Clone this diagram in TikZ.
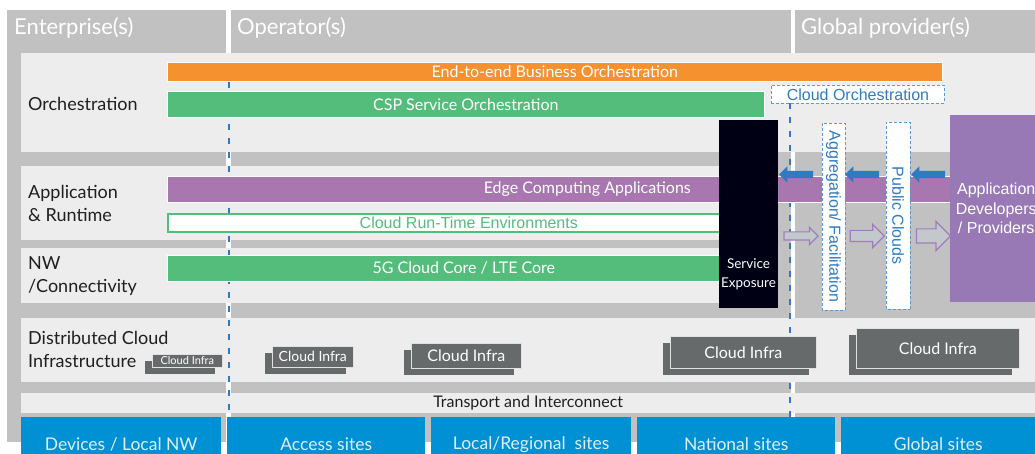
\documentclass[tikz,border=0pt]{standalone}
\usepackage{fontspec}
\setmainfont{Lato}
\newfontfamily\arialfont{Liberation Sans}
\usetikzlibrary{shapes.arrows,positioning}
\definecolor{BGGRAY}{HTML}{C0C1C0}
\definecolor{ROWGRAY}{HTML}{EDEDED}
\definecolor{ORANGE}{HTML}{F5912F}
\definecolor{GREEN}{HTML}{55BD7B}
\definecolor{PURPLE}{HTML}{A877B0}
\definecolor{DEVPURPLE}{HTML}{9879B5}
\definecolor{BLUE}{HTML}{2F7BC2}
\definecolor{DASHBLUE}{HTML}{5B9BD5}
\definecolor{INFRA}{HTML}{676A6B}
\definecolor{SITEBLUE}{HTML}{0090D4}
\definecolor{SITETEXT}{HTML}{DDEFF9}
\definecolor{HOLLOW}{HTML}{C3C8CC}
\definecolor{ARROWPURPLE}{HTML}{A07CC0}

\begin{document}
\begin{tikzpicture}[x=1pt,y=-1pt,font=\fontsize{16}{19}\selectfont]
\tikzstyle{layer name}=[anchor=west,align=left,inner xsep=0pt,text=black!88,font=\fontsize{18}{23}\selectfont]
\tikzstyle{owner}=[anchor=base west,inner xsep=0pt,text=white,font=\fontsize{22}{24}\selectfont]
\tikzstyle{bar}=[anchor=north west,inner sep=0pt,draw=white!75,line width=.6pt,text=white]
\tikzstyle{dash box}=[draw=DASHBLUE,line width=.9pt,dash pattern=on 3pt off 2pt,fill=white,text=BLUE,inner sep=0pt,font=\arialfont\fontsize{16}{19}\selectfont]
\tikzstyle{split}=[draw=BLUE,line width=2pt,dash pattern=on 6pt off 8pt]
\tikzstyle{pull}=[single arrow,shape border rotate=180,fill=BLUE,inner xsep=0pt,inner ysep=3.5pt,text height=0pt,text depth=0pt,minimum height=34,single arrow head extend=4.5]
\tikzstyle{offer}=[single arrow,fill=HOLLOW,draw=ARROWPURPLE,line width=1.2pt,inner xsep=0pt,text height=0pt,text depth=0pt,minimum height=34]
\tikzstyle{infra}=[anchor=north west,fill=INFRA,draw=white!80!INFRA,line width=.6pt,inner sep=0pt,text=white]
\tikzstyle{site}=[anchor=north west,fill=SITEBLUE,inner sep=0pt,minimum height=54,text=SITETEXT,font=\fontsize{17.5}{20}\selectfont]

\newcommand{\cloudinfra}[6]{
\fill[INFRA] (#2-7,#3+7) rectangle +(#4,#5);
\node[infra,minimum width=#4,minimum height=#5,font=\fontsize{#6}{#6}\selectfont] (#1) at (#2,#3) {Cloud Infra};
}

\useasboundingbox (0,0) rectangle (1035,454);

% columns
\fill[BGGRAY] (7,10) rectangle (226,442);
\fill[BGGRAY] (231,10) rectangle (791,442);
\fill[BGGRAY] (795,10) rectangle (1035,442);
\node[owner] (enterprise) at (14,35) {Enterprise(s)};
\node[owner] (operator) at (237,35) {Operator(s)};
\node[owner] (global) at (801,35) {Global provider(s)};

% layers
\fill[ROWGRAY] (21,53) rectangle (1035,152);
\fill[ROWGRAY] (21,166) rectangle (778,240);
\fill[ROWGRAY] (21,248) rectangle (778,303);
\fill[ROWGRAY] (21,318) rectangle (1035,382);
\node[fill=ROWGRAY,anchor=north west,inner sep=0pt,minimum width=1014,minimum height=20,text=black!88] (transport) at (21,393) {Transport and Interconnect};

\node[layer name] (orch) at (28,103.5) {Orchestration};
\node[layer name] (app) at (28,203.5) {Application\\\& Runtime};
\node[layer name] (nw) at (28,276.5) {NW\\/Connectivity};
\node[layer name] (dci) at (28,349.5) {Distributed Cloud\\Infrastructure};

\draw[split] (229,82) -- (229,454);
\draw[split] (790,103) -- (790,454);

\node[bar,fill=ORANGE,minimum width=775,minimum height=19] (e2e) at (167,62) {End-to-end Business Orchestration};
\node[bar,fill=GREEN,minimum width=597,minimum height=26] (csp) at (167,91) {CSP Service Orchestration};
\node[bar,fill=PURPLE,minimum width=840,minimum height=26] (edge) at (167,176) {Edge Computing Applications};
\node[bar,fill=white,draw=GREEN,line width=1.6pt,text=GREEN,font=\arialfont\fontsize{16}{19}\selectfont,minimum width=602,minimum height=18] (runtime) at (167,213) {Cloud Run-Time Environments};
\node[bar,fill=GREEN,minimum width=593,minimum height=26] (core) at (167,255) {5G Cloud Core / LTE Core};

\node[anchor=north west,fill=black!92!blue,minimum width=59,minimum height=188,inner sep=0pt] (exposure) at (719,120) {};
\node[align=center,text=white,font=\fontsize{13.5}{19}\selectfont] (exposetext) at (748.5,274) {Service\\Exposure};

\node[dash box,anchor=north west,minimum width=173,minimum height=18] (cloudorch) at (771,85) {Cloud Orchestration};
\node[dash box,rotate=-90,minimum width=187,minimum height=23] (aggr) at (833.5,216.5) {Aggregation/ Facilitation};
\node[dash box,rotate=-90,minimum width=187,minimum height=24] (public) at (898,215.5) {Public Clouds};

\node[anchor=north west,fill=DEVPURPLE,minimum width=92,minimum height=187,inner sep=0pt,align=center,text=white,font=\arialfont\fontsize{16}{19.5}\selectfont] (devs) at (950,115) {Application\\Developers\\/ Providers};

\foreach \x [count=\i] in {798,864,930}
    \node[pull] (pull\i) at (\x,174.5) {};

\node[offer,inner ysep=3.5pt,single arrow head extend=4.5] (offer1) at (799,236) {};
\node[offer,inner ysep=5pt,single arrow head extend=6] (offer2) at (864.5,236) {};
\node[offer,inner ysep=6.5pt,single arrow head extend=7.5] (offer3) at (930,236) {};

\cloudinfra{infra1}{152}{354}{70}{13}{11}
\cloudinfra{infra2}{272}{346}{81}{21}{14}
\cloudinfra{infra3}{411}{343}{110}{25}{16}
\cloudinfra{infra4}{670}{336}{146}{32}{16}
\cloudinfra{infra5}{856}{328}{163}{40}{16}

\foreach \a/\b/\name/\txt in {21/221/devices/{Devices / Local NW},227/425/access/{Access sites},431/631/regional/{Local/Regional~ sites},637/835/national/{National sites},841/1035/globalsites/{Global sites}}
    \node[site,minimum width=\b-\a] (\name) at (\a,417) {\txt};
\end{tikzpicture}
\end{document}
